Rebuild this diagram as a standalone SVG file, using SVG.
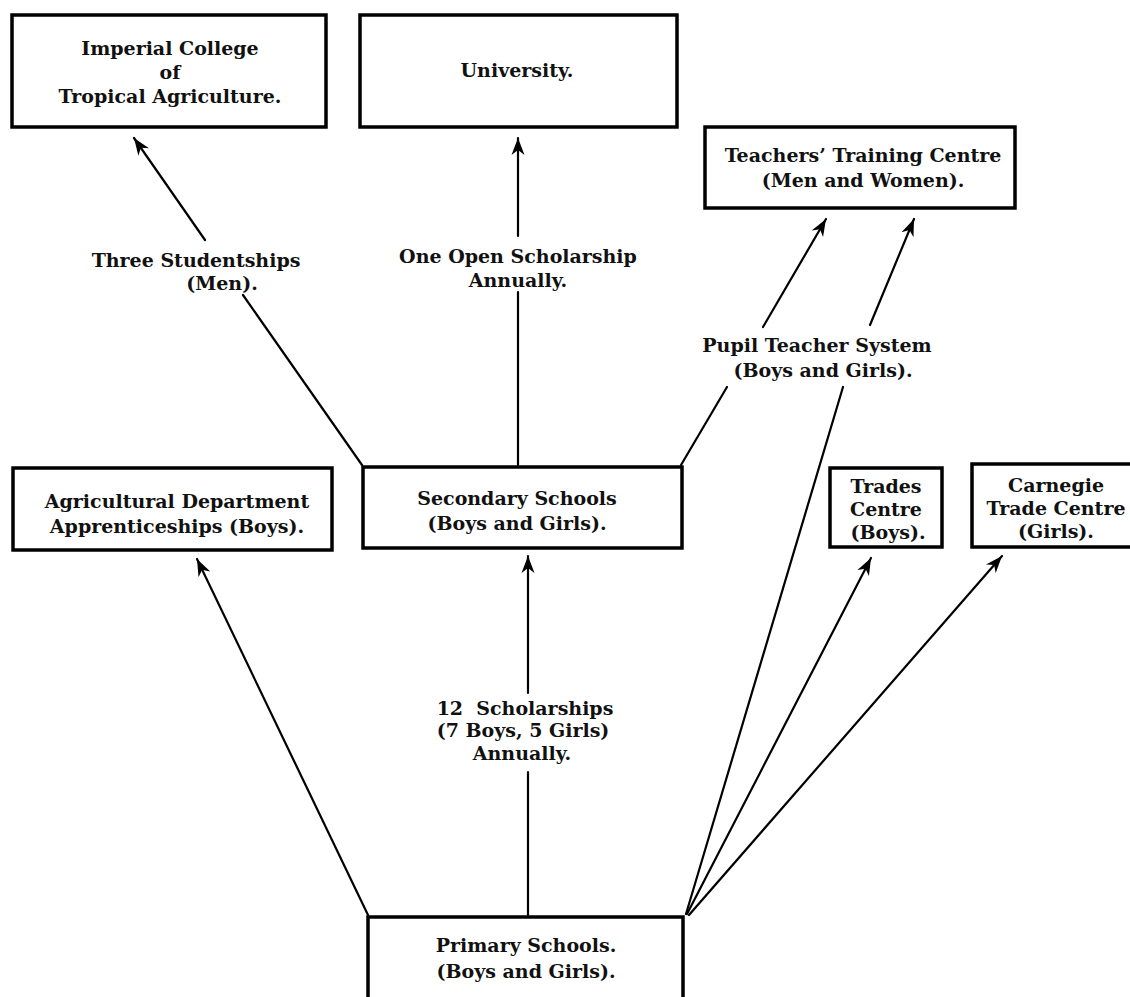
<svg xmlns="http://www.w3.org/2000/svg" width="1130" height="997" viewBox="0 0 1130 997">
<style>
  .box { fill: #fff; stroke: #000; stroke-width: 3.5; }
  .t { font-family: "DejaVu Serif", "Liberation Serif", serif; font-weight: bold; font-size: 19px; fill: #111; text-anchor: middle; }
  .c { fill: none; stroke: #000; stroke-width: 2.2; stroke-linecap: round; }
</style>
<defs>
  <marker id="ah" markerUnits="userSpaceOnUse" markerWidth="18" markerHeight="14" viewBox="0 0 18 14" refX="17" refY="7" orient="auto">
    <path d="M0,0.5 L17,7 L0,13.5 L5,7 z" fill="#000"/>
  </marker>
</defs>
<rect width="1130" height="997" fill="#fff"/>

<g id="connectors">
  <path class="c" d="M362,465 L243,295 M205,240 L134,138" marker-end="url(#ah)"/>
  <path class="c" d="M518,465 L518,292 M518,236 L518,138" marker-end="url(#ah)"/>
  <path class="c" d="M681,465 L727,387 M763,327 L826,219" marker-end="url(#ah)"/>
  <path class="c" d="M686,914 L843,387 M870,325 L914,219" marker-end="url(#ah)"/>
  <path class="c" d="M368,915 L197,559" marker-end="url(#ah)"/>
  <path class="c" d="M528,915 L528,772 M528,693 L528,556" marker-end="url(#ah)"/>
  <path class="c" d="M687,914 L871,558" marker-end="url(#ah)"/>
  <path class="c" d="M689,915 L1002,556" marker-end="url(#ah)"/>
  <text class="t" x="196" y="267">Three Studentships</text>
  <text class="t" x="222" y="290">(Men).</text>
  <text class="t" x="518" y="263">One Open Scholarship</text>
  <text class="t" x="518" y="287">Annually.</text>
  <text class="t" x="817" y="352">Pupil Teacher System</text>
  <text class="t" x="823" y="377">(Boys and Girls).</text>
  <text class="t" x="525" y="715" xml:space="preserve">12  Scholarships</text>
  <text class="t" x="523" y="737">(7 Boys, 5 Girls)</text>
  <text class="t" x="522" y="760">Annually.</text>
</g>

<g id="imperial">
  <rect class="box" x="12" y="15" width="314" height="112"/>
  <text class="t" x="170" y="55">Imperial College</text>
  <text class="t" x="170" y="79">of</text>
  <text class="t" x="170" y="103">Tropical Agriculture.</text>
</g>
<g id="university">
  <rect class="box" x="360" y="15" width="317" height="112"/>
  <text class="t" x="517" y="77">University.</text>
</g>
<g id="teachers">
  <rect class="box" x="705" y="127" width="310" height="81"/>
  <text class="t" x="863" y="162">Teachers’ Training Centre</text>
  <text class="t" x="863" y="187">(Men and Women).</text>
</g>
<g id="agricultural">
  <rect class="box" x="13" y="468" width="319" height="82"/>
  <text class="t" x="177" y="508">Agricultural Department</text>
  <text class="t" x="177" y="533">Apprenticeships (Boys).</text>
</g>
<g id="secondary">
  <rect class="box" x="363" y="467" width="319" height="81"/>
  <text class="t" x="517" y="505">Secondary Schools</text>
  <text class="t" x="517" y="530">(Boys and Girls).</text>
</g>
<g id="trades">
  <rect class="box" x="830" y="468" width="112" height="79"/>
  <text class="t" x="886" y="493">Trades</text>
  <text class="t" x="886" y="516">Centre</text>
  <text class="t" x="888" y="539">(Boys).</text>
</g>
<g id="carnegie">
  <rect class="box" x="972" y="464" width="165" height="83"/>
  <text class="t" x="1056" y="492">Carnegie</text>
  <text class="t" x="1056" y="515">Trade Centre</text>
  <text class="t" x="1056" y="538">(Girls).</text>
</g>
<g id="primary">
  <rect class="box" x="368" y="917" width="315" height="90"/>
  <text class="t" x="526" y="952">Primary Schools.</text>
  <text class="t" x="526" y="978">(Boys and Girls).</text>
</g>
</svg>
